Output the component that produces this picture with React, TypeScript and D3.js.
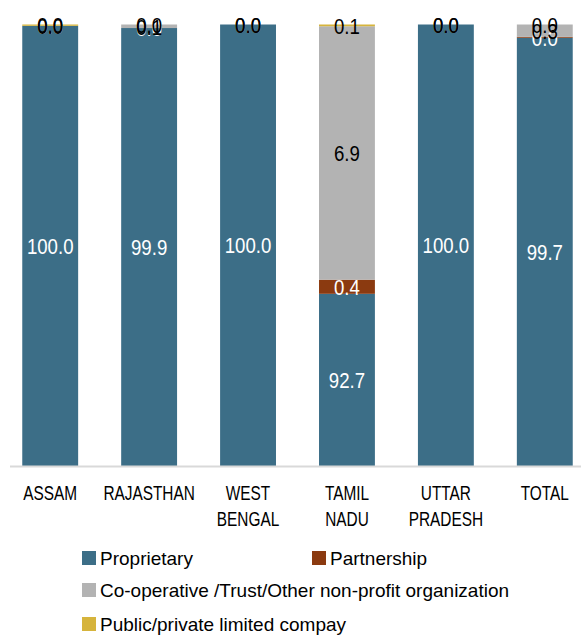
import React from "react";
import * as d3 from "d3";

const categories = ["ASSAM", "RAJASTHAN", "WEST BENGAL", "TAMIL NADU", "UTTAR PRADESH", "TOTAL"];
const categoryLines = [["ASSAM"], ["RAJASTHAN"], ["WEST", "BENGAL"], ["TAMIL", "NADU"], ["UTTAR", "PRADESH"], ["TOTAL"]];
const seriesNames = [
  "Proprietary",
  "Partnership",
  "Co-operative /Trust/Other non-profit organization",
  "Public/private limited compay",
];
// bar heights (share, %) as drawn
const proprietaryShare = [99.7, 99.2, 100, 39.0, 100, 97.0];
const partnershipShare = [0, 0, 0, 3.2, 0, 0.2];
const cooperativeShare = [0, 0.8, 0, 57.4, 0, 2.8];
const publicShare = [0.3, 0, 0, 0.4, 0, 0];
// data label values
const proprietaryLabel = [100.0, 99.9, 100.0, 92.7, 100.0, 99.7];
const partnershipLabel = [0.0, 0.0, 0.0, 0.4, 0.0, 0.0];
const cooperativeLabel = [0.0, 0.1, 0.0, 6.9, 0.0, 0.3];
const publicLabel = [0.0, 0.0, 0.0, 0.1, 0.0, 0.0];

const colors = ["#3c6e87", "#8b3a10", "#b3b3b3", "#d6b43c"];
const labelColors = ["#ffffff", "#ffffff", "#000000", "#000000"];

const FONT = "'Liberation Sans', Arial, sans-serif";

export default function App() {
  const W = 581, H = 635;
  const shares = [proprietaryShare, partnershipShare, cooperativeShare, publicShare];
  const labels = [proprietaryLabel, partnershipLabel, cooperativeLabel, publicLabel];
  const x = d3.scaleBand<string>().domain(categories).range([0.5, 594.5]).paddingInner(0.435).paddingOuter(0.22);
  const y = d3.scaleLinear().domain([0, 100]).range([466, 24.5]);

  const rows = categories.map((c, i) => {
    const o: any = { cat: c };
    shares.forEach((s, k) => (o["s" + k] = s[i]));
    return o;
  });
  const stack = d3.stack<any>().keys(["s0", "s1", "s2", "s3"])(rows);

  const legend = [
    { k: 0, x: 82, y: 558 },
    { k: 1, x: 312, y: 558 },
    { k: 2, x: 82, y: 590 },
    { k: 3, x: 82, y: 624 },
  ];

  return (
    <svg width={W} height={H} style={{ position: "absolute", left: 0, top: 0 }} fontFamily={FONT}>
      <rect width={W} height={H} fill="#fff" />
      {stack.map((layer, k) => (
        <g key={k}>
          {layer.map((d, i) => (
            <rect
              key={i}
              x={x(categories[i])!}
              width={x.bandwidth()}
              y={y(d[1])}
              height={Math.max(0, y(d[0]) - y(d[1]))}
              fill={colors[k]}
            />
          ))}
        </g>
      ))}
      <line x1={10} x2={581} y1={y(0) + 0.5} y2={y(0) + 0.5} stroke="#d9d9d9" strokeWidth={2} />
      {stack.map((layer, k) => (
        <g key={"l" + k}>
          {layer.map((d, i) => (
            <text
              key={i}
              transform={`translate(${x(categories[i])! + x.bandwidth() / 2},${(y(d[0]) + y(d[1])) / 2}) scale(0.81,1)`}
              textAnchor="middle"
              dominantBaseline="central"
              fontSize={23}
              fill={labelColors[k]}
            >
              {d3.format(".1f")(labels[k][i])}
            </text>
          ))}
        </g>
      ))}
      {categoryLines.map((lines, i) => (
        <g key={i}>
          {lines.map((t, j) => (
            <text
              key={j}
              transform={`translate(${x(categories[i])! + x.bandwidth() / 2},${500 + j * 26}) scale(0.77,1)`}
              textAnchor="middle"
              fontSize={20}
              fill="#000"
            >
              {t}
            </text>
          ))}
        </g>
      ))}
      {legend.map((l) => (
        <g key={l.k}>
          <rect x={l.x} y={l.y - 7} width={14} height={14} fill={colors[l.k]} />
          <text x={l.x + 18} y={l.y} dominantBaseline="central" fontSize={19} fill="#000">
            {seriesNames[l.k]}
          </text>
        </g>
      ))}
    </svg>
  );
}
